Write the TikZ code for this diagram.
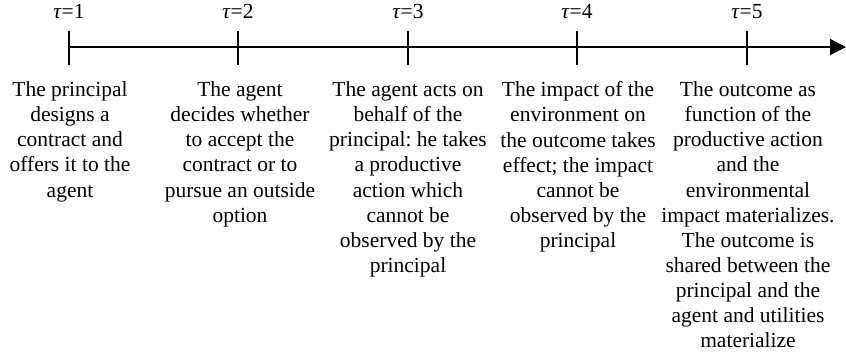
\documentclass[tikz,border=0pt]{standalone}
\usepackage{fontspec}
\setmainfont{LiberationSerif}[Extension=.ttf, UprightFont=*-Regular, ItalicFont=*-Italic, BoldFont=*-Bold, BoldItalicFont=*-BoldItalic]
\usetikzlibrary{arrows.meta}
\tikzset{
  axis/.style={line width=1.8pt, -{Triangle[length=16pt,width=16pt]}},
  tickline/.style={line width=1.6pt},
  tlabel/.style={anchor=base, inner sep=0pt, font=\fontsize{21.5}{25}\selectfont},
  desc/.style={anchor=north, inner sep=0pt, align=center, font=\fontsize{21.5}{25.1}\selectfont},
}
\begin{document}
\frenchspacing
\begin{tikzpicture}[x=1pt,y=-1pt]
\useasboundingbox (0,0) rectangle (846,356);
\foreach \i/\x in {1/69,2/238,3/408,4/577,5/747}{
  \coordinate (t\i) at (\x,47);
  \coordinate (t\i u) at (\x,31);
  \coordinate (t\i d) at (\x,65);
  \draw[tickline] (t\i u) -- (t\i d);
  \node[tlabel] (lab\i) at (\x,19) {\textit{τ}=\i};
}
\coordinate (tend) at (846,47);
\draw[axis] (t1) -- (tend);
\node[desc] (d1) at (70,81.5) {The principal\\designs a\\contract and\\offers it to the\\agent};
\node[desc] (d2) at (240,81.5) {The agent\\decides whether\\to accept the\\contract or to\\pursue an outside\\option};
\node[desc] (d3) at (408,81.5) {The agent acts on\\behalf of the\\principal: he takes\\a productive\\action which\\cannot be\\observed by the\\principal};
\node[desc] (d4) at (578,81.5) {The impact of the\\environment on\\the outcome takes\\effect; the impact\\cannot be\\observed by the\\principal};
\node[desc] (d5) at (748,81.5) {The outcome as\\function of the\\productive action\\and the\\environmental\\impact materializes.\\The outcome is\\shared between the\\principal and the\\agent and utilities\\materialize};
\end{tikzpicture}
\end{document}
